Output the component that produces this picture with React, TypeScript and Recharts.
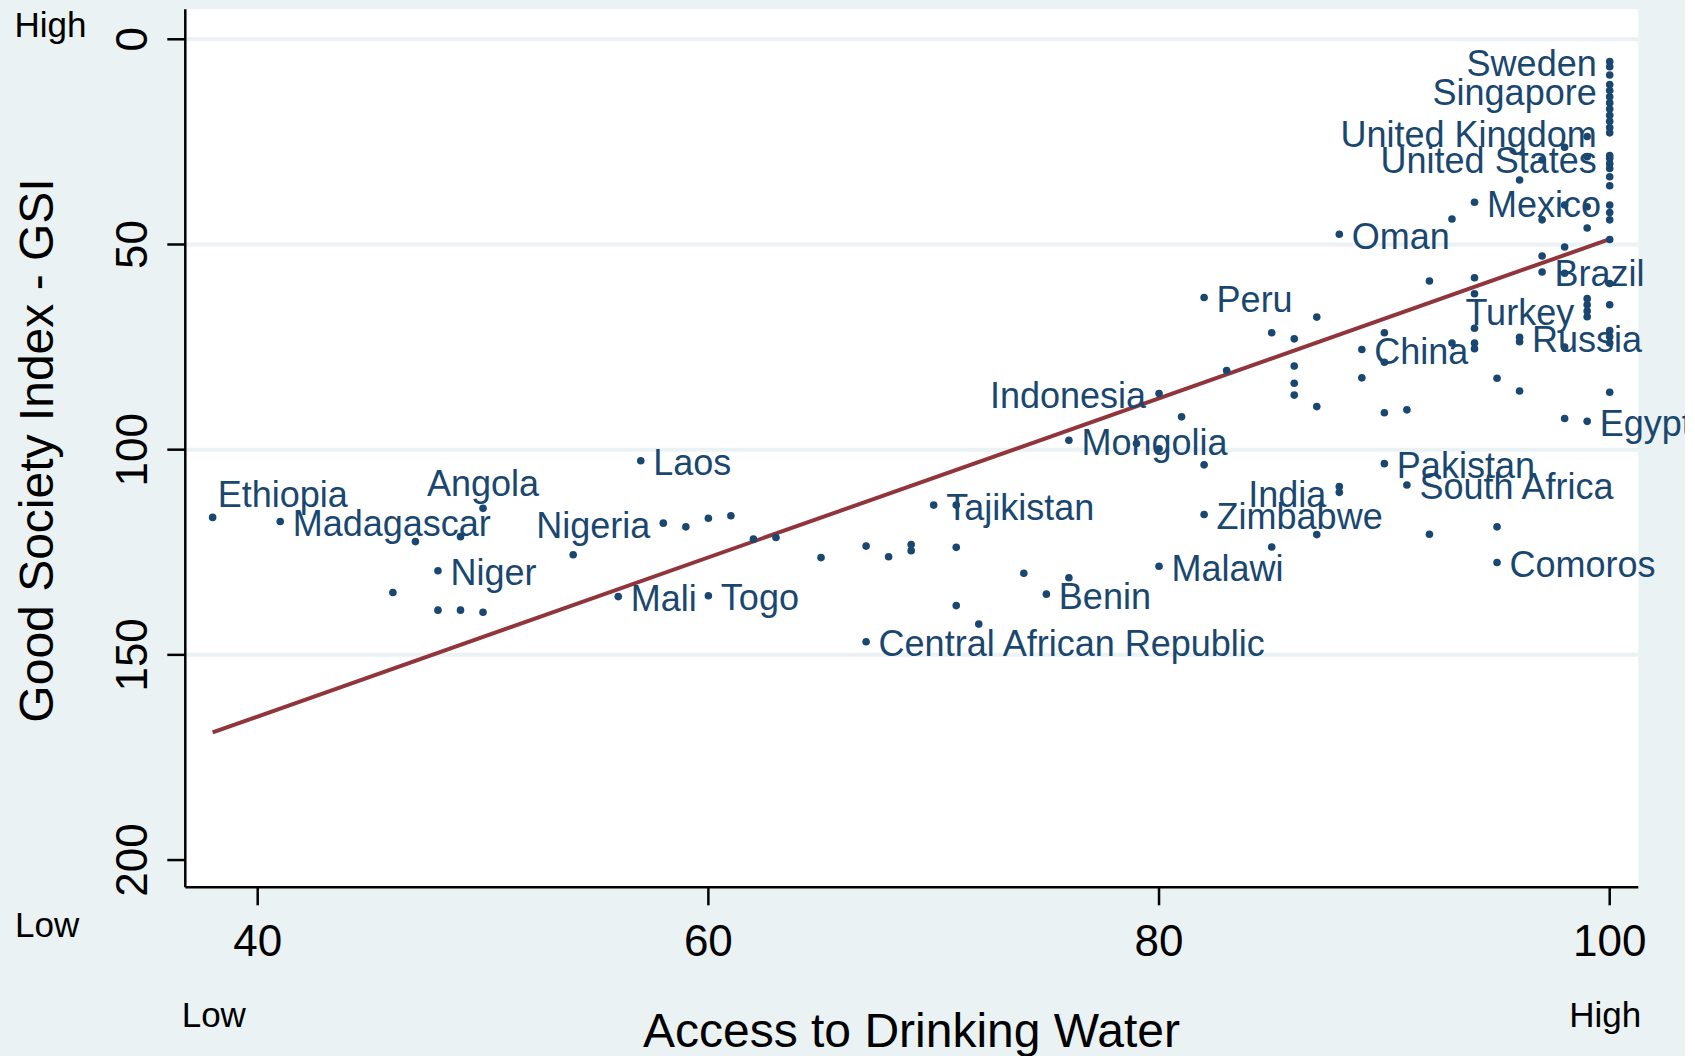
import React from 'react';
import { ScatterChart, Scatter, XAxis, YAxis, CartesianGrid, ReferenceLine } from 'recharts';

// ---------- data ----------
const labeledNames = [
  'Sweden', 'Singapore', 'United Kingdom', 'United States', 'Mexico', 'Oman', 'Brazil', 'Peru',
  'Turkey', 'Russia', 'China', 'Indonesia', 'Egypt', 'Mongolia', 'Laos', 'Pakistan',
  'South Africa', 'India', 'Angola', 'Tajikistan', 'Zimbabwe', 'Ethiopia', 'Madagascar', 'Nigeria',
  'Comoros', 'Malawi', 'Niger', 'Benin', 'Mali', 'Togo', 'Central African Republic',
];
const labeledWater = [
  100, 100, 100, 100, 94, 88, 97, 82,
  99, 96, 89, 80, 99, 76, 57, 90,
  91, 88, 50, 70, 82, 38, 41, 58,
  95, 80, 48, 75, 56, 60, 67,
];
const labeledGsi = [
  5.4, 12.5, 22.8, 29.0, 39.7, 47.5, 56.7, 62.9,
  66.2, 72.6, 75.6, 86.3, 93.1, 97.7, 102.7, 103.4,
  108.6, 110.4, 114.3, 113.5, 115.8, 116.5, 117.5, 117.9,
  127.5, 128.4, 129.5, 135.2, 135.8, 135.6, 146.8,
];

const otherWater = [
  46, 47, 48, 49, 49, 50, 54, 59, 60, 61, 62, 63, 65, 67, 68, 69, 69, 71, 71, 71, 72, 74, 76,
  79, 80, 81, 82, 83, 85, 85, 86, 86, 86, 86, 87, 87, 87, 88, 89, 90, 90, 90, 91, 92, 92,
  93, 93, 94, 94, 94, 94, 94, 95, 95, 96, 96, 96, 97, 97, 97,
  98, 98, 98, 98, 98, 98, 99, 99, 99, 99, 99, 99, 99,
  100, 100, 100, 100, 100, 100, 100, 100, 100, 100, 100, 100, 100, 100, 100, 100, 100, 100,
  100, 100, 100, 100, 100, 100,
];
const otherGsi = [
  134.8, 122.4, 139.1, 121.2, 139.1, 139.6, 125.6, 118.8, 116.7, 116.1, 121.8, 121.4, 126.3, 123.5, 126.1, 123.1, 124.6, 113.5, 123.8, 138.0, 142.5, 130.1, 131.2,
  98.5, 99.8, 92.0, 103.7, 80.7, 71.5, 123.7, 73.0, 79.6, 83.8, 86.7, 67.7, 89.5, 120.7, 109.0, 82.5, 71.5, 78.7, 91.0, 90.3, 58.9, 120.6,
  43.8, 74.0, 58.1, 62.0, 70.4, 74.0, 75.4, 82.6, 118.8, 34.3, 73.7, 85.7, 29.4, 44.0, 52.8,
  26.3, 40.4, 50.6, 57.0, 75.0, 92.4, 23.7, 28.6, 40.8, 46.0, 63.2, 64.7, 67.6,
  6.7, 8.7, 11.0, 14.0, 15.5, 17.0, 18.5, 20.0, 21.5, 30.3, 31.5, 33.5, 35.7, 40.4, 42.2, 44.0, 48.8, 59.5,
  64.7, 71.0, 72.5, 74.0, 86.0, 28.3,
];

const fitWater = [38, 100];
const fitGsi = [168.9, 48.7];

const xTicks = [40, 60, 80, 100];
const yTicks = [0, 50, 100, 150, 200];
const gridValues = [0, 50, 100, 150];

const xTitle = 'Access to Drinking Water';
const yTitle = 'Good Society Index - GSI';

// label placement (style): L = left, R = right, T = above, TR = above right
const labelPlacement: Record<string, string> = {
  Sweden: 'L', Singapore: 'L', 'United Kingdom': 'L', 'United States': 'L', Turkey: 'L',
  Indonesia: 'L', India: 'L', Nigeria: 'L', Angola: 'T', Ethiopia: 'TR',
};

// ---------- styles ----------
const W = 1685;
const H = 1056;
const NAVY = '#1A476F';
const MAROON = '#90353B';
const BG = '#EAF2F3';
const FONT = '"Liberation Sans", Arial, Helvetica, sans-serif';
const LABEL_FS = 36;
const TICK_FS = 44;
const TITLE_FS = 48;
const CORNER_FS = 35;
const R = 3.8;

const labeledPoints = labeledNames.map((n, i) => ({ name: n, x: labeledWater[i], y: labeledGsi[i] }));
const otherPoints = otherWater.map((x, i) => ({ x, y: otherGsi[i] }));

const Dot = (props: any) => {
  const { cx, cy } = props;
  if (cx == null || cy == null) return null;
  return <circle cx={cx} cy={cy} r={R} fill={NAVY} />;
};

const LabeledDot = (props: any) => {
  const { cx, cy, payload } = props;
  if (cx == null || cy == null) return null;
  const pos = labelPlacement[payload.name] || 'R';
  let tx = cx + 12.5;
  let ty = cy + 14.5;
  let anchor: any = 'start';
  if (pos === 'L') {
    tx = cx - 13;
    anchor = 'end';
  } else if (pos === 'T') {
    tx = cx;
    ty = cy - 12.5;
    anchor = 'middle';
  } else if (pos === 'TR') {
    tx = cx + 5;
    ty = cy - 10;
  }
  return (
    <g>
      <circle cx={cx} cy={cy} r={R} fill={NAVY} />
      <text x={tx} y={ty} textAnchor={anchor} fill={NAVY} fontSize={LABEL_FS} fontFamily={FONT}>
        {payload.name}
      </text>
    </g>
  );
};

const XTick = (props: any) => {
  const { x, payload } = props;
  return (
    <text x={x} y={956} textAnchor="middle" fill="#000" fontSize={TICK_FS} fontFamily={FONT}>
      {payload.value}
    </text>
  );
};

const YTick = (props: any) => {
  const { y, payload } = props;
  const tx = 146.7;
  return (
    <text
      x={tx}
      y={y}
      textAnchor="middle"
      transform={`rotate(-90, ${tx}, ${y})`}
      fill="#000"
      fontSize={TICK_FS}
      fontFamily={FONT}
    >
      {payload.value}
    </text>
  );
};

export default function App() {
  return (
    <div
      style={{
        position: 'absolute',
        left: 0,
        top: 0,
        width: W,
        height: H,
        background: BG,
        overflow: 'hidden',
      }}
    >
      <ScatterChart width={W} height={H} margin={{ top: 9.3, right: 46.7, bottom: 0, left: 0 }}>
        <CartesianGrid
          vertical={false}
          horizontalValues={gridValues}
          stroke={BG}
          strokeWidth={4}
          fill="#ffffff"
          fillOpacity={1}
        />
        <XAxis
          type="number"
          dataKey="x"
          domain={[36.787, 101.269]}
          ticks={xTicks}
          interval={0}
          height={168.7}
          axisLine={{ stroke: '#000', strokeWidth: 2.5 }}
          tickLine={{ stroke: '#000', strokeWidth: 2.5 }}
          tickSize={18}
          tick={XTick}
        />
        <YAxis
          type="number"
          dataKey="y"
          domain={[-7.31, 206.64]}
          reversed
          ticks={yTicks}
          interval={0}
          width={185.3}
          axisLine={{ stroke: '#000', strokeWidth: 2.5 }}
          tickLine={{ stroke: '#000', strokeWidth: 2.5 }}
          tickSize={18}
          tick={YTick}
        />
        <Scatter data={otherPoints} shape={Dot} isAnimationActive={false} />
        <Scatter data={labeledPoints} shape={LabeledDot} isAnimationActive={false} />
        <ReferenceLine
          segment={[
            { x: fitWater[0], y: fitGsi[0] },
            { x: fitWater[1], y: fitGsi[1] },
          ]}
          stroke={MAROON}
          strokeWidth={4}
          ifOverflow="visible"
        />
        <text x={911.5} y={1046.5} textAnchor="middle" fill="#000" fontSize={TITLE_FS} fontFamily={FONT}>
          {xTitle}
        </text>
        <text
          x={52.5}
          y={450.5}
          textAnchor="middle"
          transform="rotate(-90, 52.5, 450.5)"
          fill="#000"
          fontSize={TITLE_FS}
          fontFamily={FONT}
        >
          {yTitle}
        </text>
        <text x={14.5} y={36.7} fill="#000" fontSize={CORNER_FS} fontFamily={FONT}>High</text>
        <text x={15} y={937.3} fill="#000" fontSize={CORNER_FS} fontFamily={FONT}>Low</text>
        <text x={181.7} y={1026.7} fill="#000" fontSize={CORNER_FS} fontFamily={FONT}>Low</text>
        <text x={1569.3} y={1026.7} fill="#000" fontSize={CORNER_FS} fontFamily={FONT}>High</text>
      </ScatterChart>
    </div>
  );
}
